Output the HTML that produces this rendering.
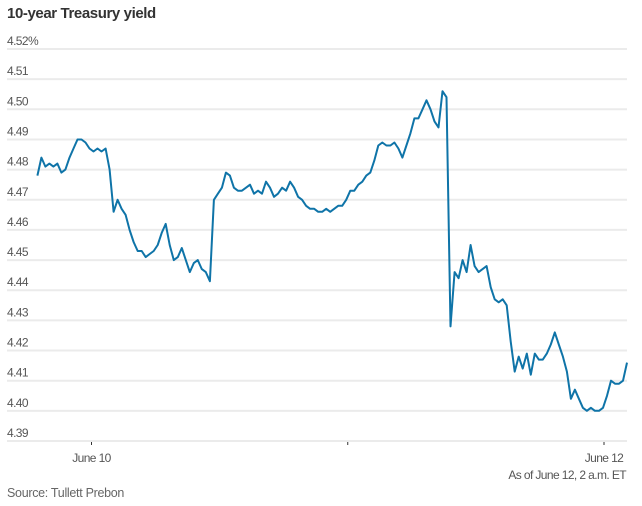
<!DOCTYPE html>
<html><head><meta charset="utf-8">
<style>
html,body{margin:0;padding:0;background:#fff;width:642px;height:506px;overflow:hidden}
svg{display:block}
.t{font-family:"Liberation Sans Narrow","Liberation Sans",sans-serif;fill:#555;font-size:12px;letter-spacing:-0.6px}
</style></head>
<body>
<svg id="chart" width="642" height="506" viewBox="0 0 642 506">
<text x="7" y="18" font-family="Liberation Sans, sans-serif" font-weight="bold" font-size="15" letter-spacing="-0.4" fill="#333">10-year Treasury yield</text>
<g id="grid"></g>
<g id="xaxis"></g>
<path id="line" fill="none" stroke="#0f74a8" stroke-width="2" stroke-linejoin="round"/>
<text class="t" x="626" y="479" text-anchor="end">As of June 12, 2 a.m. ET</text>
<text x="7" y="497" font-family="Liberation Sans, sans-serif" font-size="12.5" letter-spacing="-0.3" fill="#666">Source: Tullett Prebon</text>
</svg>
<script>
const yTicks=[4.39,4.40,4.41,4.42,4.43,4.44,4.45,4.46,4.47,4.48,4.49,4.50,4.51,4.52];
const yTickLabels=["4.39","4.40","4.41","4.42","4.43","4.44","4.45","4.46","4.47","4.48","4.49","4.50","4.51","4.52%"];
const xTicks=[0,24,48];
const xTickLabels=["June 10","","June 12"];
const startHour=-5.07;
const stepHours=0.3757;
const yields=[4.478,4.484,4.481,4.482,4.481,4.482,4.479,4.480,4.484,4.487,4.490,4.490,4.489,4.487,4.486,4.487,4.486,4.487,4.480,4.466,
4.470,4.467,4.465,4.460,4.456,4.453,4.453,4.451,4.452,4.453,4.455,4.459,4.462,4.455,4.450,4.451,4.454,4.450,4.446,4.449,
4.450,4.447,4.446,4.443,4.470,4.472,4.474,4.479,4.478,4.474,4.473,4.473,4.474,4.475,4.472,4.473,4.472,4.476,4.474,4.471,
4.472,4.474,4.473,4.476,4.474,4.471,4.470,4.468,4.467,4.467,4.466,4.466,4.467,4.466,4.467,4.468,4.468,4.470,4.473,4.473,
4.475,4.476,4.478,4.479,4.483,4.488,4.489,4.488,4.488,4.489,4.487,4.484,4.488,4.492,4.497,4.497,4.500,4.503,4.500,4.496,
4.494,4.506,4.504,4.428,4.446,4.444,4.450,4.446,4.455,4.448,4.446,4.447,4.448,4.441,4.437,4.436,4.437,4.435,4.423,4.413,
4.418,4.414,4.419,4.412,4.419,4.417,4.417,4.419,4.422,4.426,4.422,4.418,4.413,4.404,4.407,4.404,4.401,4.400,4.401,4.400,
4.400,4.401,4.405,4.410,4.409,4.409,4.410,4.416];

const NS="http://www.w3.org/2000/svg";
const yScale=v=>441-(v-4.39)/0.13*392;
const xScale=h=>91.5+h*(604-91.5)/48;
const grid=document.getElementById('grid');
yTicks.forEach((v,i)=>{
  const l=document.createElementNS(NS,'line');
  
  
  l.setAttribute('x1',7);l.setAttribute('x2',627);
  l.setAttribute('y1',yScale(v));l.setAttribute('y2',yScale(v));
  l.setAttribute('stroke','#ebebeb');l.setAttribute('stroke-width',2);
  grid.appendChild(l);
  const t=document.createElementNS(NS,'text');
  
  
  t.setAttribute('class','t');
  t.setAttribute('x',7);t.setAttribute('y',yScale(v)-4);
  t.textContent=yTickLabels[i];
  grid.appendChild(t);
});
const xa=document.getElementById('xaxis');
xTicks.forEach((h,i)=>{
  const l=document.createElementNS(NS,'line');
  
  
  l.setAttribute('x1',xScale(h));l.setAttribute('x2',xScale(h));
  l.setAttribute('y1',442);l.setAttribute('y2',445);
  l.setAttribute('stroke','#333');l.setAttribute('stroke-width',1);
  xa.appendChild(l);
  if(xTickLabels[i]){
    const t=document.createElementNS(NS,'text');
    
    
    t.setAttribute('class','t');
    t.setAttribute('x',xScale(h));t.setAttribute('y',462);
    t.setAttribute('text-anchor','middle');
    t.textContent=xTickLabels[i];
    xa.appendChild(t);
  }
});
let d='';
yields.forEach((v,i)=>{
  const h=startHour+i*stepHours;
  d+=(i?'L':'M')+xScale(h).toFixed(1)+','+yScale(v).toFixed(1);
});
document.getElementById('line').setAttribute('d',d);
</script>
</body></html>
